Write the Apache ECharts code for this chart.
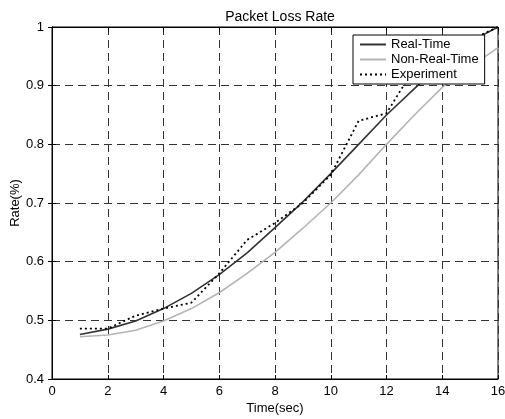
<!DOCTYPE html>
<html>
<head>
<meta charset="utf-8">
<script src="https://cdn.jsdelivr.net/npm/echarts@6/dist/echarts.min.js"></script>
<style>html,body{margin:0;padding:0;background:#fff}#c{width:505px;height:419px}</style>
</head>
<body>
<div id="c"></div>
<script>
const times = [1,2,3,4,5,6,7,8,9,10,11,12,13,14,15,16];
const realTime = [0.476,0.485,0.499,0.520,0.546,0.578,0.615,0.658,0.702,0.750,0.800,0.850,0.895,0.938,0.975,1.000];
const nonRealTime = [0.472,0.475,0.483,0.499,0.520,0.547,0.580,0.616,0.657,0.700,0.748,0.800,0.850,0.897,0.932,0.965];
const experiment = [0.486,0.486,0.508,0.520,0.530,0.580,0.637,0.666,0.700,0.748,0.840,0.853,0.930,0.958,0.978,1.000];
const xTicks = [0,2,4,6,8,10,12,14,16];
const yTicks = [0.4,0.5,0.6,0.7,0.8,0.9,1];

const pairs = (ys) => times.map((t,i)=>[t, ys[i]]);
const font = 'Liberation Sans, Arial, Helvetica, sans-serif';
const chart = echarts.init(document.getElementById('c'));
const dash = [8,5];
chart.setOption({
  backgroundColor: '#fff',
  animation: false,
  title: {text: 'Packet Loss Rate', left: 275, top: 5, textAlign: 'center',
    textStyle: {fontFamily: font, fontSize: 14, fontWeight: 'normal', color: '#000'}},
  grid: {left: 52, right: 7, top: 27, bottom: 40, containLabel: false, outerBoundsMode: 'none',
    show: true, borderColor: '#000', borderWidth: 1, backgroundColor: 'transparent'},
  legend: {
    orient: 'vertical', left: 353, top: 35, padding: [3, 6, 3, 6], itemGap: 2,
    backgroundColor: '#fff', borderColor: '#000', borderWidth: 1,
    itemWidth: 26, itemHeight: 14, z: 10,
    itemStyle: {opacity: 0},
    textStyle: {fontFamily: font, fontSize: 13, color: '#000'},
    data: ['Real-Time','Non-Real-Time','Experiment']
  },
  xAxis: [{
    type: 'value', min: 0, max: 16, interval: 2,
    name: 'Time(sec)', nameLocation: 'middle', nameGap: 23, nameMoveOverlap: false,
    nameTextStyle: {fontFamily: font, fontSize: 13, color: '#000'},
    axisLine: {show: true, onZero: false, lineStyle: {color: '#000'}},
    axisTick: {inside: true, length: 4, lineStyle: {color: '#000'}},
    axisLabel: {fontFamily: font, fontSize: 13, color: '#000', margin: 6},
    splitLine: {show: true, lineStyle: {type: dash, color: '#333', width: 1}}
  },{
    type: 'value', min: 0, max: 16, interval: 2, position: 'top',
    axisLine: {show: true, lineStyle: {color: '#000'}},
    axisTick: {inside: true, length: 4, lineStyle: {color: '#000'}},
    axisLabel: {show: false}, splitLine: {show: false}
  }],
  yAxis: [{
    type: 'value', min: 0.4, max: 1, interval: 0.1,
    name: 'Rate(%)', nameLocation: 'middle', nameGap: 30, nameMoveOverlap: false,
    nameTextStyle: {fontFamily: font, fontSize: 13, color: '#000'},
    axisLine: {show: true, lineStyle: {color: '#000'}},
    axisTick: {inside: true, length: 4, lineStyle: {color: '#000'}},
    axisLabel: {fontFamily: font, fontSize: 13, color: '#000', margin: 8,
      formatter: v => (Math.abs(v-1)<1e-9 ? '1' : v.toFixed(1))},
    splitLine: {show: true, lineStyle: {type: dash, color: '#333', width: 1}}
  },{
    type: 'value', min: 0.4, max: 1, interval: 0.1, position: 'right',
    axisLine: {show: true, lineStyle: {color: '#000'}},
    axisTick: {inside: true, length: 4, lineStyle: {color: '#000'}},
    axisLabel: {show: false}, splitLine: {show: false}
  }],
  series: [
    {name: 'Real-Time', type: 'line', data: pairs(realTime), symbol: 'none', clip: true,
      lineStyle: {color: '#333', width: 1.6}, itemStyle: {color: '#333'}},
    {name: 'Non-Real-Time', type: 'line', data: pairs(nonRealTime), symbol: 'none', clip: true,
      lineStyle: {color: '#b4b4b4', width: 1.6}, itemStyle: {color: '#b4b4b4'}},
    {name: 'Experiment', type: 'line', data: pairs(experiment), symbol: 'none', clip: true,
      lineStyle: {color: '#000', width: 1.8, type: [2,3]}, itemStyle: {color: '#000'}}
  ]
});
</script>
</body>
</html>
